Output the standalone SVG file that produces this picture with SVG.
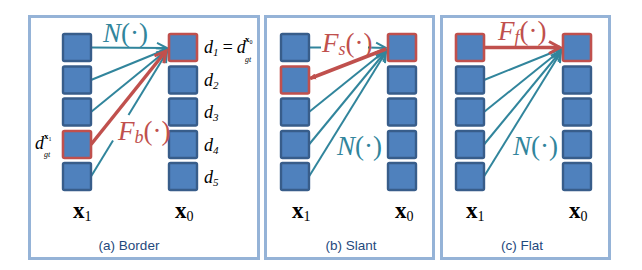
<svg xmlns="http://www.w3.org/2000/svg" width="642" height="270" viewBox="0 0 642 270">
<style>
.frame{fill:none;stroke:#95b3d7;stroke-width:3}
.box{fill:#4f81bd;stroke:#385d8a;stroke-width:2.4}
.rbox{fill:#4f81bd;stroke:#c0504d;stroke-width:2.6}
.t{fill:none;stroke:#31859c;stroke-width:2}
.r{fill:none;stroke:#c0504d;stroke-width:3.5}
.m{font-family:"Liberation Serif","Times New Roman",serif}
.mi{font-family:"Liberation Serif","Times New Roman",serif;font-style:italic}
.big{font-size:27px}
.teal{fill:#31859c}
.red{fill:#c0504d}
.dl{font-size:18px;fill:#000}
.xb{font-family:"Liberation Serif",serif;font-weight:bold;font-size:23px;fill:#000}
.cap{font-family:"Liberation Sans",Arial,sans-serif;font-size:13.5px;fill:#1f497d;text-anchor:middle}
</style>
<defs>
<marker id="at" markerUnits="userSpaceOnUse" markerWidth="14" markerHeight="14" refX="11" refY="6" orient="auto" viewBox="0 0 14 12">
<path d="M1,1 L11,6 L1,11" fill="none" stroke="#31859c" stroke-width="2"/>
</marker>
<marker id="ar" markerUnits="userSpaceOnUse" markerWidth="16" markerHeight="16" refX="12" refY="7" orient="auto" viewBox="0 0 16 14">
<path d="M1,1 L12,7 L1,13" fill="none" stroke="#c0504d" stroke-width="3"/>
</marker>
<marker id="ars" markerUnits="userSpaceOnUse" markerWidth="8" markerHeight="8" refX="6" refY="3" orient="auto" viewBox="0 0 8 6">
<path d="M0,0 L7,3 L0,6 Z" fill="#c0504d"/>
</marker>
</defs>

<g id="frames">
<rect class="frame" x="29.5" y="16.5" width="229" height="242"/>
<rect class="frame" x="265.5" y="16.5" width="168" height="242"/>
<rect class="frame" x="441.5" y="16.5" width="168" height="242"/>
</g>

<g id="connectors">
<!-- (a) -->
<line class="t" x1="91" y1="47.5" x2="167" y2="48" marker-end="url(#at)"/>
<line class="t" x1="91" y1="80" x2="167" y2="49" marker-end="url(#at)"/>
<line class="t" x1="91" y1="112" x2="167" y2="50" marker-end="url(#at)"/>
<line class="t" x1="91" y1="176.5" x2="113" y2="140.5"/>
<line class="t" x1="128.5" y1="115" x2="167" y2="52" marker-end="url(#at)"/>
<line class="r" x1="91" y1="144.5" x2="166" y2="51" marker-end="url(#ar)"/>
<!-- (b) -->
<line class="t" x1="309" y1="47.5" x2="321" y2="47.5"/>
<line class="t" x1="368" y1="47.5" x2="386" y2="48" marker-end="url(#at)"/>
<line class="t" x1="309" y1="112" x2="386" y2="50" marker-end="url(#at)"/>
<line class="t" x1="309" y1="144.5" x2="386" y2="51" marker-end="url(#at)"/>
<line class="t" x1="309" y1="176.5" x2="386" y2="52" marker-end="url(#at)"/>
<line class="r" x1="386" y1="49" x2="310" y2="78.5" marker-end="url(#ars)"/>
<!-- (c) -->
<line class="t" x1="484" y1="80" x2="561" y2="49" marker-end="url(#at)"/>
<line class="t" x1="484" y1="112" x2="561" y2="50" marker-end="url(#at)"/>
<line class="t" x1="484" y1="144.5" x2="561" y2="51" marker-end="url(#at)"/>
<line class="t" x1="484" y1="176.5" x2="561" y2="52" marker-end="url(#at)"/>
<line class="r" x1="484" y1="47.5" x2="560" y2="47.5" marker-end="url(#ar)"/>
</g>

<g id="a-x1">
<rect class="box" x="63" y="34" width="28" height="27" rx="1.5"/>
<rect class="box" x="63" y="66.5" width="28" height="27" rx="1.5"/>
<rect class="box" x="63" y="98.5" width="28" height="27" rx="1.5"/>
<rect class="rbox" x="63" y="131" width="28" height="27" rx="1.5"/>
<rect class="box" x="63" y="163" width="28" height="27" rx="1.5"/>
</g>
<g id="a-x0">
<rect class="rbox" x="169" y="34" width="28" height="27" rx="1.5"/>
<rect class="box" x="169" y="66.5" width="28" height="27" rx="1.5"/>
<rect class="box" x="169" y="98.5" width="28" height="27" rx="1.5"/>
<rect class="box" x="169" y="131" width="28" height="27" rx="1.5"/>
<rect class="box" x="169" y="163" width="28" height="27" rx="1.5"/>
</g>
<g id="b-x1">
<rect class="box" x="281" y="34" width="28" height="27" rx="1.5"/>
<rect class="rbox" x="281" y="66.5" width="28" height="27" rx="1.5"/>
<rect class="box" x="281" y="98.5" width="28" height="27" rx="1.5"/>
<rect class="box" x="281" y="131" width="28" height="27" rx="1.5"/>
<rect class="box" x="281" y="163" width="28" height="27" rx="1.5"/>
</g>
<g id="b-x0">
<rect class="rbox" x="388" y="34" width="28" height="27" rx="1.5"/>
<rect class="box" x="388" y="66.5" width="28" height="27" rx="1.5"/>
<rect class="box" x="388" y="98.5" width="28" height="27" rx="1.5"/>
<rect class="box" x="388" y="131" width="28" height="27" rx="1.5"/>
<rect class="box" x="388" y="163" width="28" height="27" rx="1.5"/>
</g>
<g id="c-x1">
<rect class="rbox" x="456" y="34" width="28" height="27" rx="1.5"/>
<rect class="box" x="456" y="66.5" width="28" height="27" rx="1.5"/>
<rect class="box" x="456" y="98.5" width="28" height="27" rx="1.5"/>
<rect class="box" x="456" y="131" width="28" height="27" rx="1.5"/>
<rect class="box" x="456" y="163" width="28" height="27" rx="1.5"/>
</g>
<g id="c-x0">
<rect class="rbox" x="563" y="34" width="28" height="27" rx="1.5"/>
<rect class="box" x="563" y="66.5" width="28" height="27" rx="1.5"/>
<rect class="box" x="563" y="98.5" width="28" height="27" rx="1.5"/>
<rect class="box" x="563" y="131" width="28" height="27" rx="1.5"/>
<rect class="box" x="563" y="163" width="28" height="27" rx="1.5"/>
</g>

<g id="labels-a">
<text class="m big teal" x="103" y="42"><tspan class="mi">N</tspan>(·)</text>
<text class="m big red" x="118" y="140"><tspan class="mi">F</tspan><tspan class="mi" font-size="18" dy="3">b</tspan><tspan dy="-3">(·)</tspan></text>
<text class="mi dl" x="204" y="53">d<tspan class="m" font-size="11" dy="3">1</tspan><tspan class="m" dy="-3" dx="3">=</tspan><tspan dx="3">d</tspan></text>
<text class="m" font-size="9" font-weight="bold" x="245" y="42">x<tspan font-size="6" font-weight="normal" dy="2">0</tspan></text>
<text class="mi" font-size="8" x="245" y="62">gt</text>
<text class="mi dl" x="204" y="86">d<tspan class="m" font-size="11" dy="3">2</tspan></text>
<text class="mi dl" x="204" y="118">d<tspan class="m" font-size="11" dy="3">3</tspan></text>
<text class="mi dl" x="204" y="151">d<tspan class="m" font-size="11" dy="3">4</tspan></text>
<text class="mi dl" x="204" y="183">d<tspan class="m" font-size="11" dy="3">5</tspan></text>
<text class="mi dl" x="35" y="149">d</text>
<text class="m" font-size="9" font-weight="bold" x="44" y="139">x<tspan font-size="6" font-weight="normal" dy="2">1</tspan></text>
<text class="mi" font-size="8" x="44" y="157">gt</text>
<text class="xb" x="73" y="218">x<tspan class="m" font-weight="normal" font-size="14" dy="3">1</tspan></text>
<text class="xb" x="175" y="218">x<tspan class="m" font-weight="normal" font-size="14" dy="3">0</tspan></text>
<text class="cap" x="129" y="250">(a) Border</text>
</g>

<g id="labels-b">
<text class="m big red" x="322" y="52"><tspan class="mi">F</tspan><tspan class="mi" font-size="18" dy="3">s</tspan><tspan dy="-3">(·)</tspan></text>
<text class="m big teal" x="337" y="155"><tspan class="mi">N</tspan>(·)</text>
<text class="xb" x="292" y="218">x<tspan class="m" font-weight="normal" font-size="14" dy="3">1</tspan></text>
<text class="xb" x="395" y="218">x<tspan class="m" font-weight="normal" font-size="14" dy="3">0</tspan></text>
<text class="cap" x="351" y="250">(b) Slant</text>
</g>

<g id="labels-c">
<text class="m big red" x="498" y="40"><tspan class="mi">F</tspan><tspan class="mi" font-size="18" dy="3">f</tspan><tspan dy="-3">(·)</tspan></text>
<text class="m big teal" x="513" y="155"><tspan class="mi">N</tspan>(·)</text>
<text class="xb" x="466" y="218">x<tspan class="m" font-weight="normal" font-size="14" dy="3">1</tspan></text>
<text class="xb" x="569" y="218">x<tspan class="m" font-weight="normal" font-size="14" dy="3">0</tspan></text>
<text class="cap" x="522" y="250">(c) Flat</text>
</g>
</svg>
